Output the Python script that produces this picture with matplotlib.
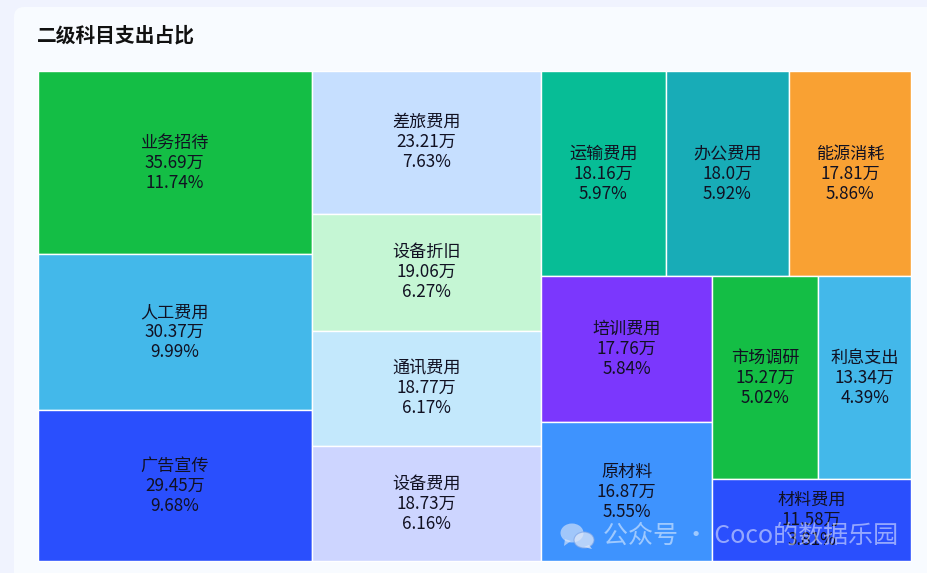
import matplotlib
matplotlib.use("Agg")
import matplotlib.pyplot as plt
from matplotlib.patches import Rectangle, FancyBboxPatch, Ellipse, Polygon

plt.rcParams['font.family'] = ['Noto Sans CJK SC', 'DejaVu Sans']

title = "二级科目支出占比"
names = ["业务招待", "人工费用", "广告宣传", "差旅费用", "设备折旧", "通讯费用", "设备费用",
         "运输费用", "办公费用", "能源消耗", "培训费用", "原材料", "市场调研", "利息支出", "材料费用"]
amounts = [35.69, 30.37, 29.45, 23.21, 19.06, 18.77, 18.73,
           18.16, 18.0, 17.81, 17.76, 16.87, 15.27, 13.34, 11.58]
shares = [11.74, 9.99, 9.68, 7.63, 6.27, 6.17, 6.16,
          5.97, 5.92, 5.86, 5.84, 5.55, 5.02, 4.39, 3.81]
colors = ["#14be45", "#43b8ea", "#2a4ffd", "#c6dfff", "#c5f6d4", "#c3e8fc", "#cdd5ff",
          "#07bd96", "#18acb7", "#f9a133", "#7b37fd", "#3e93fe", "#14be45", "#43b8ea", "#2a4ffd"]

# treemap nesting: 'h' splits across the width, 'v' splits across the height
layout = ('h', [
    ('v', [0, 1, 2]),
    ('v', [3, 4, 5, 6]),
    ('v', [
        ('h', [7, 8, 9]),
        ('h', [
            ('v', [10, 11]),
            ('v', [
                ('h', [12, 13]),
                14,
            ]),
        ]),
    ]),
])


def weight(node):
    if isinstance(node, int):
        return amounts[node]
    return sum(weight(c) for c in node[1])


def place(node, x, y, w, h, out):
    if isinstance(node, int):
        out[node] = (x, y, w, h)
        return
    total = weight(node)
    pos = 0.0
    for child in node[1]:
        frac = weight(child) / total
        if node[0] == 'h':
            place(child, x + pos * w, y, frac * w, h, out)
        else:
            place(child, x, y + pos * h, w, frac * h, out)
        pos += frac


fig = plt.figure(figsize=(9.27, 5.73), dpi=100, facecolor="#f0f3fe")

# page backdrop, in pixel coordinates
bg = fig.add_axes([0, 0, 1, 1], zorder=0)
bg.set_xlim(0, 927)
bg.set_ylim(573, 0)
bg.axis("off")
bg.add_patch(FancyBboxPatch((14, 7), 1000, 700, boxstyle="round,pad=0,rounding_size=10",
                            fc="#f8fbff", ec="none"))
bg.text(36.5, 35.5, title, fontsize=14.2, fontweight="bold", color="#111111", ha="left", va="center")

# treemap
ax = fig.add_axes([37.6 / 927, 1 - 561 / 573, 873.4 / 927, 490 / 573], zorder=1)
ax.set_xlim(0, 1)
ax.set_ylim(1, 0)
ax.axis("off")
rects = {}
place(layout, 0, 0, 1, 1, rects)
for i, (x, y, w, h) in rects.items():
    ax.add_patch(Rectangle((x, y), w, h, fc=colors[i], ec="white", lw=1.0, clip_on=False))
    ax.text(x + w / 2, y + h / 2, f"{names[i]}\n{amounts[i]}万\n{shares[i]}%",
            fontsize=12.3, color="#111122", ha="center", va="center", linespacing=1.15)

# watermark overlay, in pixel coordinates
wm = fig.add_axes([0, 0, 1, 1], zorder=2)
wm.set_xlim(0, 927)
wm.set_ylim(573, 0)
wm.axis("off")
wm.patch.set_alpha(0)
wc = "#dfe8f8"
wm.add_patch(Ellipse((572, 533), 23, 19, fc=wc, ec="none", alpha=0.62))
wm.add_patch(Polygon([[565, 539], [564, 546], [571, 541]], fc=wc, ec="none", alpha=0.62))
wm.add_patch(Ellipse((584, 540), 20, 16, fc=wc, ec="#7fa6e8", lw=0.8, alpha=0.75))
wm.add_patch(Polygon([[589, 545], [592, 549], [584, 547]], fc=wc, ec="none", alpha=0.75))
wm.text(603, 536, "公众号 · Coco的数据乐园", fontsize=18, color="white", alpha=0.5,
        ha="left", va="center")

fig.savefig("out.png", dpi=100, facecolor=fig.get_facecolor())
